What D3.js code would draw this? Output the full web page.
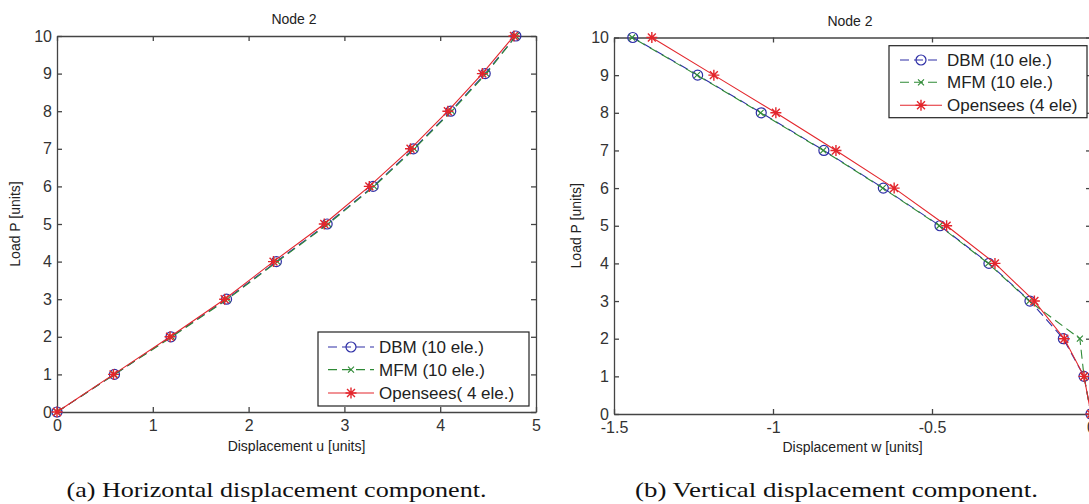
<!DOCTYPE html>
<html>
<head>
<meta charset="utf-8">
<script src="https://cdn.jsdelivr.net/npm/d3@7"></script>
<style>
  body { margin: 0; background: #fff; }
  svg { display: block; font-family: 'Liberation Sans', Arial, sans-serif; }
  .axis path, .axis line { stroke: #444; stroke-width: 1.3; }
  .axis text { font-size: 16px; fill: #333; font-family: 'Liberation Sans', Arial, sans-serif; }
  .label { font-size: 14px; fill: #222; }
  .caption { font-family: 'Liberation Serif', 'Times New Roman', serif; font-size: 21px; fill: #111; }
  .legend-box { fill: #fff; stroke: #222; stroke-width: 1.2; }
  .legend text { font-size: 17px; fill: #222; }
</style>
</head>
<body>
<svg id="chart" width="1089" height="504"></svg>
<script>
// load steps shared by both panels
const loads = [0, 1, 2, 3, 4, 5, 6, 7, 8, 9, 10];

// (a) horizontal displacement u at node 2
const horizDBM = [0, 0.60, 1.19, 1.77, 2.29, 2.82, 3.30, 3.72, 4.11, 4.47, 4.79];
const horizMFM = [0, 0.60, 1.20, 1.78, 2.30, 2.83, 3.31, 3.73, 4.12, 4.48, 4.79];
const horizOpensees = [0, 0.59, 1.18, 1.75, 2.26, 2.79, 3.26, 3.69, 4.08, 4.44, 4.77];

// (b) vertical displacement w at node 2
const vertDBM = [0, -0.022, -0.087, -0.192, -0.321, -0.475, -0.653, -0.840, -1.037, -1.237, -1.441];
const vertMFM = [0, -0.022, -0.035, -0.194, -0.323, -0.477, -0.655, -0.842, -1.039, -1.239, -1.443];
const vertOpensees = [0, -0.022, -0.084, -0.178, -0.302, -0.454, -0.619, -0.802, -0.991, -1.186, -1.381];

const horizTicks = [0, 1, 2, 3, 4, 5];
const vertTicks = [-1.5, -1, -0.5, 0];
const loadTicks = [0, 1, 2, 3, 4, 5, 6, 7, 8, 9, 10];

const horizLegend = ['DBM (10 ele.)', 'MFM (10 ele.)', 'Opensees( 4 ele.)'];
const vertLegend = ['DBM (10 ele.)', 'MFM (10 ele.)', 'Opensees (4 ele)'];

const colors = {
  dbm: '#2e2fa6',
  mfm: '#2f8a36',
  opensees: '#e3262c'
};

const svg = d3.select('#chart');

function starPath(s) {
  let d = s * 0.72;
  return 'M' + (-s) + ',0H' + s + 'M0,' + (-s) + 'V' + s +
    'M' + (-d) + ',' + (-d) + 'L' + d + ',' + d +
    'M' + (-d) + ',' + d + 'L' + d + ',' + (-d);
}

function crossPath(s) {
  return 'M' + (-s) + ',' + (-s) + 'L' + s + ',' + s +
    'M' + (-s) + ',' + s + 'L' + s + ',' + (-s);
}

function drawMarker(g, kind, x, y) {
  if (kind === 'dbm') {
    g.append('circle')
      .attr('cx', x).attr('cy', y).attr('r', 5)
      .attr('fill', 'none')
      .attr('stroke', colors.dbm)
      .attr('stroke-width', 1.2);
  } else if (kind === 'mfm') {
    g.append('path')
      .attr('transform', 'translate(' + x + ',' + y + ')')
      .attr('d', crossPath(3))
      .attr('fill', 'none')
      .attr('stroke', colors.mfm)
      .attr('stroke-width', 1.1);
  } else {
    g.append('path')
      .attr('transform', 'translate(' + x + ',' + y + ')')
      .attr('d', starPath(5.5))
      .attr('fill', 'none')
      .attr('stroke', colors.opensees)
      .attr('stroke-width', 1.4);
  }
}

function renderPanel(cfg) {
  let width = cfg.right - cfg.left;
  let height = cfg.bottom - cfg.top;

  let xScale = d3.scaleLinear().domain(cfg.xDomain).range([0, width]);
  let yScale = d3.scaleLinear().domain([0, 10]).range([height, 0]);

  let vis = svg.append('g')
    .attr('transform', 'translate(' + cfg.left + ',' + cfg.top + ')');

  // box with inward ticks on all four sides
  vis.append('g')
    .attr('class', 'axis')
    .attr('transform', 'translate(0,' + height + ')')
    .call(d3.axisBottom(xScale).tickValues(cfg.xTicks).tickSize(-5).tickSizeOuter(0)
      .tickPadding(8).tickFormat(d => String(d)));

  vis.append('g')
    .attr('class', 'axis')
    .call(d3.axisTop(xScale).tickValues(cfg.xTicks).tickSize(-5).tickSizeOuter(0)
      .tickFormat(() => ''));

  vis.append('g')
    .attr('class', 'axis')
    .call(d3.axisLeft(yScale).tickValues(loadTicks).tickSize(-5).tickSizeOuter(0)
      .tickPadding(5).tickFormat(d => String(d)));

  vis.append('g')
    .attr('class', 'axis')
    .attr('transform', 'translate(' + width + ',0)')
    .call(d3.axisRight(yScale).tickValues(loadTicks).tickSize(-5).tickSizeOuter(0)
      .tickFormat(() => ''));

  vis.selectAll('.axis text').style('font-size', '16px');

  // series
  cfg.series.map((s) => {
    let pts = loads.map((p, i) => ({ u: s.values[i], p: p }));

    vis.append('path')
      .datum(pts)
      .attr('fill', 'none')
      .attr('stroke', colors[s.key])
      .attr('stroke-width', 1.1)
      .attr('stroke-dasharray', s.key === 'opensees' ? null : '9,5')
      .attr('d', d3.line()
        .x(function(d) { return xScale(d.u); })
        .y(function(d) { return yScale(d.p); })
      );

    let marks = vis.append('g');
    pts.map((d) => {
      drawMarker(marks, s.key, xScale(d.u), yScale(d.p));
    });
  });

  // legend
  let lg = vis.append('g')
    .attr('class', 'legend')
    .attr('transform', 'translate(' + cfg.legend.x + ',' + cfg.legend.y + ')');

  lg.append('rect')
    .attr('class', 'legend-box')
    .attr('width', cfg.legend.w)
    .attr('height', cfg.legend.h);

  cfg.series.map((s, i) => {
    let ry = cfg.legend.rows[i];
    let x0 = cfg.legend.lineStart;
    let x1 = cfg.legend.lineEnd;

    lg.append('line')
      .attr('x1', x0).attr('x2', x1)
      .attr('y1', ry).attr('y2', ry)
      .attr('stroke', colors[s.key])
      .attr('stroke-width', 1.1)
      .attr('stroke-dasharray', s.key === 'opensees' ? null : '9,5');

    drawMarker(lg, s.key, (x0 + x1) / 2, ry);

    lg.append('text')
      .attr('x', cfg.legend.textX)
      .attr('y', ry)
      .attr('dy', '0.35em')
      .text(cfg.legendLabels[i]);
  });

  // labels
  svg.append('text')
    .attr('class', 'label')
    .attr('x', cfg.titleX)
    .attr('y', cfg.titleY)
    .attr('text-anchor', 'middle')
    .text('Node 2');

  svg.append('text')
    .attr('class', 'label')
    .attr('x', cfg.left + width / 2)
    .attr('y', cfg.xLabelY)
    .attr('text-anchor', 'middle')
    .text(cfg.xLabel);

  svg.append('text')
    .attr('class', 'label')
    .attr('transform', 'translate(' + cfg.yLabelX + ',' + (cfg.top + height / 2) + ') rotate(-90)')
    .attr('text-anchor', 'middle')
    .text('Load P [units]');

  svg.append('text')
    .attr('class', 'caption')
    .attr('x', cfg.captionX)
    .attr('y', 497)
    .attr('text-anchor', 'middle')
    .attr('textLength', cfg.captionW)
    .attr('lengthAdjust', 'spacingAndGlyphs')
    .text(cfg.caption);
}

renderPanel({
  left: 57, right: 536, top: 36, bottom: 412,
  xDomain: [0, 5],
  xTicks: horizTicks,
  series: [
    { key: 'dbm', values: horizDBM },
    { key: 'mfm', values: horizMFM },
    { key: 'opensees', values: horizOpensees }
  ],
  legendLabels: horizLegend,
  legend: { x: 261, y: 296, w: 211, h: 74, rows: [15, 37.6, 61], lineStart: 10, lineEnd: 56, textX: 61 },
  titleX: 294, titleY: 24,
  xLabel: 'Displacement u [units]', xLabelY: 451,
  yLabelX: 20,
  caption: '(a) Horizontal displacement component.',
  captionX: 276.5, captionW: 420
});

renderPanel({
  left: 614, right: 1091, top: 37.5, bottom: 414,
  xDomain: [-1.5, 0],
  xTicks: vertTicks,
  series: [
    { key: 'dbm', values: vertDBM },
    { key: 'mfm', values: vertMFM },
    { key: 'opensees', values: vertOpensees }
  ],
  legendLabels: vertLegend,
  legend: { x: 275, y: 8.2, w: 198, h: 72, rows: [14.3, 36.6, 59.6], lineStart: 11, lineEnd: 53, textX: 58 },
  titleX: 850, titleY: 26,
  xLabel: 'Displacement w [units]', xLabelY: 452,
  yLabelX: 581,
  caption: '(b) Vertical displacement component.',
  captionX: 836.5, captionW: 403
});
</script>
</body>
</html>
